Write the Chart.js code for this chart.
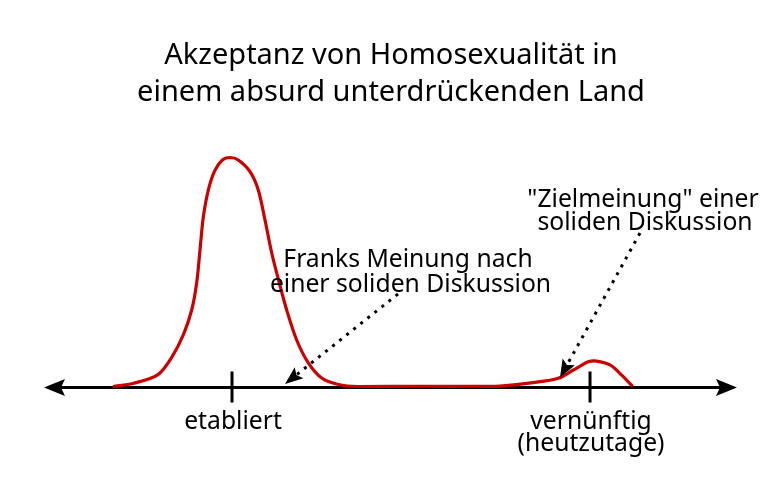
<!DOCTYPE html>
<html>
<head>
<meta charset="utf-8">
<script src="https://cdn.jsdelivr.net/npm/chart.js@4.4.1/dist/chart.umd.min.js"></script>
<style>
html,body{margin:0;padding:0;background:#fff;}
#wrap{width:781px;height:488px;}
</style>
</head>
<body>
<div id="wrap"><canvas id="c" width="781" height="488"></canvas></div>
<script>
// ---- data (x: acceptance scale 0..100, y: relative frequency 0..100) ----
const curveX = [9.96, 12.84, 16.45, 18.47, 20.1, 21.31, 22.03, 22.51, 22.99, 23.71, 24.68, 25.83, 26.84,
  28.04, 29.73, 30.92, 31.89, 32.86, 33.81, 35.02, 36.46, 38.14, 40.07, 42.47, 45.31,
  54.26, 62.91, 65.8, 70.6, 74.21, 76.38, 78.54, 79.75, 81.67, 83.36, 84.95];
const curveY = [0, 1.3, 5.2, 12.9, 22.5, 33.4, 45.2, 59.6, 74.0, 85.8, 94.5, 99.1, 100,
  98.9, 93.8, 85.8, 72.7, 58.3, 46.9, 33.4, 20.3, 10.3, 3.7, 0.9, 0,
  0.1, 0.1, 0.2, 1.7, 3.6, 7.2, 10.8, 11.1, 9.4, 5.0, 0];
const tickValues = [27.13, 78.79];
const tickLabels = [["etabliert"], ["vernünftig", "(heutzutage)"]];
const titleLines = ["Akzeptanz von Homosexualität in", "einem absurd unterdrückenden Land"];
const noteLines1 = ["Franks Meinung nach", "einer soliden Diskussion"];
const noteLines2 = ["\"Zielmeinung\" einer", "soliden Diskussion"];
// arrows: [fromX, fromY, toX, toY] in data units
const arrow1 = [51.08, 40.4, 34.78, 1.1];
const arrow2 = [86.0, 67.0, 74.46, 3.9];

const FONT = '"Noto Sans", "Open Sans", sans-serif';
const RED = '#cc0000';

function arrowHead(ctx, tx, ty, angle, len, half, notch) {
  ctx.save();
  ctx.translate(tx, ty);
  ctx.rotate(angle);
  ctx.beginPath();
  ctx.moveTo(0, 0);
  ctx.lineTo(-len, -half);
  ctx.lineTo(-len + notch, 0);
  ctx.lineTo(-len, half);
  ctx.closePath();
  ctx.fill();
  ctx.restore();
}

const decor = {
  id: 'decor',
  beforeDatasetsDraw(chart) {
    const ctx = chart.ctx;
    const xs = chart.scales.x, ys = chart.scales.y;
    const ay = ys.getPixelForValue(0) + 1;
    const left = 44, right = 737;
    ctx.save();
    ctx.fillStyle = '#000';
    ctx.strokeStyle = '#000';
    ctx.lineWidth = 3;
    ctx.beginPath();
    ctx.moveTo(left + 12, ay);
    ctx.lineTo(right - 12, ay);
    ctx.stroke();
    arrowHead(ctx, right, ay, 0, 21, 8.5, 4);
    arrowHead(ctx, left, ay, Math.PI, 21, 8.5, 4);
    // ticks
    tickValues.forEach((v, i) => {
      const px = xs.getPixelForValue(v);
      ctx.beginPath();
      ctx.moveTo(px, ay - 16);
      ctx.lineTo(px, ay + 15);
      ctx.stroke();
    });
    ctx.restore();
  },
  afterDatasetsDraw(chart) {
    const ctx = chart.ctx;
    const xs = chart.scales.x, ys = chart.scales.y;
    ctx.save();
    ctx.fillStyle = '#000';
    ctx.textAlign = 'center';
    ctx.textBaseline = 'alphabetic';
    // title
    ctx.font = '29px ' + FONT;
    ctx.fillText(titleLines[0], 391, 63.5);
    ctx.fillText(titleLines[1], 391, 100.5);
    // tick labels
    ctx.font = '24.7px ' + FONT;
    tickValues.forEach((v, i) => {
      const px = xs.getPixelForValue(v);
      tickLabels[i].forEach((t, j) => ctx.fillText(t, px + 1, 428.5 + j * 22));
    });
    // notes
    ctx.fillText(noteLines1[0], 408, 267);
    ctx.fillText(noteLines1[1], 410.5, 291.5);
    ctx.fillText(noteLines2[0], 643, 206.5);
    ctx.fillText(noteLines2[1], 645, 230);
    // dotted arrows
    [arrow1, arrow2].forEach(a => {
      const x1 = xs.getPixelForValue(a[0]), y1 = ys.getPixelForValue(a[1]);
      const x2 = xs.getPixelForValue(a[2]), y2 = ys.getPixelForValue(a[3]);
      const ang = Math.atan2(y2 - y1, x2 - x1);
      const L = 15;
      const bx = x2 - Math.cos(ang) * L, by = y2 - Math.sin(ang) * L;
      ctx.save();
      ctx.lineWidth = 3;
      ctx.setLineDash([3, 6]);
      ctx.beginPath();
      ctx.moveTo(x1, y1);
      ctx.lineTo(bx, by);
      ctx.stroke();
      ctx.restore();
      arrowHead(ctx, x2, y2, ang, 18, 7, 3.5);
    });
    ctx.restore();
  }
};

const points = curveX.map((x, i) => ({ x: x, y: curveY[i] }));

new Chart(document.getElementById('c'), {
  type: 'line',
  data: {
    datasets: [{
      data: points,
      borderColor: RED,
      borderWidth: 3.2,
      pointRadius: 0,
      tension: 0.3,
      fill: false,
      clip: false
    }]
  },
  options: {
    responsive: false,
    animation: false,
    devicePixelRatio: 1,
    layout: { padding: { left: 44, right: 44, top: 157.5, bottom: 101.5 } },
    scales: {
      x: { type: 'linear', min: 0, max: 100, display: false },
      y: { type: 'linear', min: 0, max: 100, display: false }
    },
    plugins: { legend: { display: false }, tooltip: { enabled: false }, title: { display: false } }
  },
  plugins: [decor]
});
</script>
</body>
</html>
